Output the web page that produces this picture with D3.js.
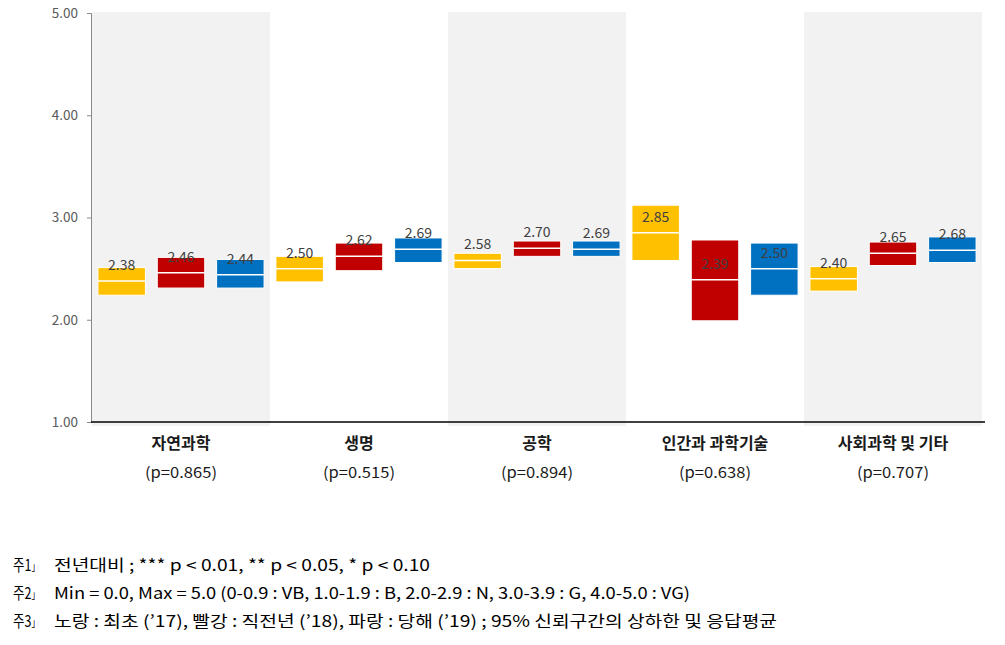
<!DOCTYPE html>
<html><head><meta charset="utf-8">
<script src="https://cdn.jsdelivr.net/npm/d3@7"></script>
<style>body{margin:0;background:#fff}svg{display:block}</style>
</head><body>
<script>
const categories = ['자연과학','생명','공학','인간과 과학기술','사회과학 및 기타'];
const pValues = ['(p=0.865)','(p=0.515)','(p=0.894)','(p=0.638)','(p=0.707)'];
const seriesNames = ['2017','2018','2019'];
const seriesColors = ['#FFC000','#C00000','#0070C0'];
const means17 = [2.38, 2.50, 2.58, 2.85, 2.40];
const lower17 = [2.24, 2.37, 2.50, 2.58, 2.28];
const upper17 = [2.51, 2.62, 2.65, 3.12, 2.52];
const means18 = [2.46, 2.62, 2.70, 2.39, 2.65];
const lower18 = [2.31, 2.48, 2.62, 1.99, 2.53];
const upper18 = [2.61, 2.75, 2.77, 2.78, 2.76];
const means19 = [2.44, 2.69, 2.69, 2.50, 2.68];
const lower19 = [2.31, 2.56, 2.62, 2.24, 2.56];
const upper19 = [2.59, 2.80, 2.77, 2.75, 2.81];
const yTicks = [1, 2, 3, 4, 5];
const notePrefix = ['주1', '주2', '주3'];
const notes = [
  '전년대비 ; *** p < 0.01, ** p < 0.05, * p < 0.10',
  'Min = 0.0, Max = 5.0 (0-0.9 : VB, 1.0-1.9 : B, 2.0-2.9 : N, 3.0-3.9 : G, 4.0-5.0 : VG)',
  '노랑 : 최초 (\u201917), 빨강 : 직전년 (\u201918), 파랑 : 당해 (\u201919) ; 95% 신뢰구간의 상하한 및 응답평균'
];
const noteWidths = [376, 636, 723];

const series = [
  {name: seriesNames[0], color: seriesColors[0], mean: means17, lo: lower17, hi: upper17},
  {name: seriesNames[1], color: seriesColors[1], mean: means18, lo: lower18, hi: upper18},
  {name: seriesNames[2], color: seriesColors[2], mean: means19, lo: lower19, hi: upper19}
];

const W = 1005, H = 645;
const svg = d3.select('body').append('svg').attr('width', W).attr('height', H);
const font = "'Noto Sans CJK KR','Noto Sans',sans-serif";

const x = d3.scaleBand().domain(categories).range([92, 982]);
const xs = d3.scaleBand().domain(seriesNames).range([0, x.bandwidth()]).paddingInner(0.2).paddingOuter(0.1);
const y = d3.scaleLinear().domain([1, 5]).range([422, 13]);

// alternating bands
svg.append('g').selectAll('rect').data(categories.filter((d, i) => i % 2 === 0)).join('rect')
  .attr('x', d => x(d)).attr('width', x.bandwidth())
  .attr('y', 12).attr('height', 426 - 12).attr('fill', '#f2f2f2');

// y axis
const yAxis = d3.axisLeft(y).tickValues(yTicks).tickFormat(d3.format('.2f')).tickSize(4).tickPadding(9);
const ga = svg.append('g').attr('transform', 'translate(91,0)').call(yAxis);
ga.select('.domain').attr('stroke', '#898989');
ga.selectAll('.tick line').attr('stroke', '#898989');
ga.selectAll('.tick text').attr('fill', '#595959').style('font-family', font).style('font-size', '13.5px');

// x axis line
svg.append('line').attr('x1', 91).attr('x2', 985).attr('y1', y(1)).attr('y2', y(1))
  .attr('stroke', '#000').attr('stroke-width', 1.3);

// boxes
series.forEach(s => {
  const g = svg.append('g');
  const data = categories.map((c, i) => ({c, m: s.mean[i], lo: s.lo[i], hi: s.hi[i]}));
  g.selectAll('rect').data(data).join('rect')
    .attr('x', d => x(d.c) + xs(s.name)).attr('width', xs.bandwidth())
    .attr('y', d => y(d.hi)).attr('height', d => y(d.lo) - y(d.hi))
    .attr('fill', s.color).attr('stroke', '#fff').attr('stroke-width', 1);
  g.selectAll('line').data(data).join('line')
    .attr('x1', d => x(d.c) + xs(s.name)).attr('x2', d => x(d.c) + xs(s.name) + xs.bandwidth())
    .attr('y1', d => y(d.m)).attr('y2', d => y(d.m))
    .attr('stroke', '#fff').attr('stroke-width', 1.5);
  g.selectAll('text').data(data).join('text')
    .attr('x', d => x(d.c) + xs(s.name) + xs.bandwidth() / 2)
    .attr('y', d => y(d.m) - 11)
    .attr('text-anchor', 'middle').attr('fill', '#404040')
    .style('font-family', font).style('font-size', '14px')
    .text(d => d.m.toFixed(2));
});

// category labels
svg.append('g').selectAll('text').data(categories).join('text')
  .attr('x', d => x(d) + x.bandwidth() / 2).attr('y', 449)
  .attr('text-anchor', 'middle').attr('fill', '#1a1a1a')
  .style('font-family', font).style('font-size', '16px').style('font-weight', 'bold')
  .text(d => d);
svg.append('g').selectAll('text').data(pValues).join('text')
  .attr('x', (d, i) => x(categories[i]) + x.bandwidth() / 2 - 36).attr('y', 478)
  .attr('fill', '#1a1a1a')
  .attr('textLength', 72).attr('lengthAdjust', 'spacingAndGlyphs')
  .style('font-family', font).style('font-size', '15px')
  .text(d => d);

// notes
const gn = svg.append('g');
notes.forEach((t, i) => {
  const yy = 571 + i * 28;
  const pt = gn.append('text').attr('transform', `translate(13,${yy}) scale(0.78,1)`)
    .style('font-family', font).style('font-size', '16px');
  pt.append('tspan').text(notePrefix[i]);
  pt.append('tspan').style('font-size', '11px').text('」');
  gn.append('text').attr('x', 54).attr('y', yy)
    .attr('textLength', noteWidths[i]).attr('lengthAdjust', 'spacingAndGlyphs')
    .style('font-family', font).style('font-size', '16px').text(t);
});
</script>
</body></html>
